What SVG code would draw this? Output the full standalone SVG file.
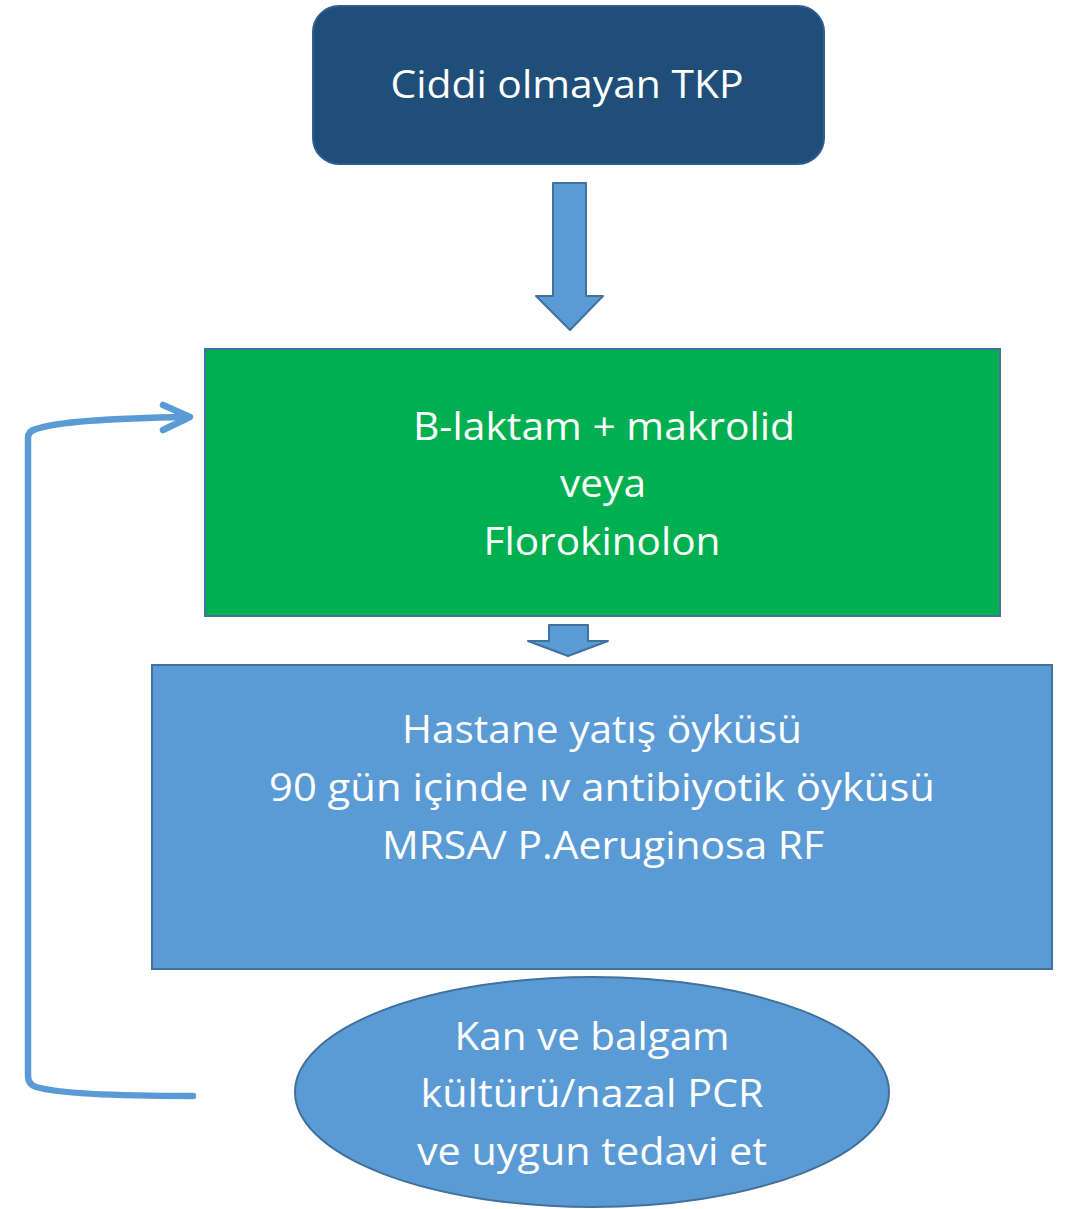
<svg xmlns="http://www.w3.org/2000/svg" width="1073" height="1209" viewBox="0 0 1073 1209">
<style>
.t{font-family:"Open Sans","Noto Sans","Liberation Sans",sans-serif;font-size:39px;fill:#ffffff;text-anchor:middle}
.conn{fill:none;stroke:#5B9BD5;stroke-width:6.5;stroke-linecap:round;stroke-linejoin:round}
.blk{fill:#5B9BD5;stroke:#41719C;stroke-width:2;stroke-linejoin:round}
</style>
<rect width="1073" height="1209" fill="#ffffff"/>
<g id="start">
<rect x="313" y="6" width="511" height="158" rx="26" fill="#1F4E79" stroke="#2E5F8E" stroke-width="2"/>
<text class="t" x="567" y="98" textLength="353" lengthAdjust="spacingAndGlyphs">Ciddi olmayan TKP</text>
</g>
<g id="treatment">
<rect x="205" y="349" width="795" height="267" fill="#00B050" stroke="#41719C" stroke-width="2"/>
<text class="t" x="604" y="440" textLength="382" lengthAdjust="spacingAndGlyphs">B-laktam + makrolid</text>
<text class="t" x="603" y="497" textLength="86" lengthAdjust="spacingAndGlyphs">veya</text>
<text class="t" x="602" y="555" textLength="237" lengthAdjust="spacingAndGlyphs">Florokinolon</text>
</g>
<g id="risk">
<rect x="152" y="665" width="900" height="304" fill="#5B9BD5" stroke="#41719C" stroke-width="2"/>
<text class="t" x="602" y="743" textLength="400" lengthAdjust="spacingAndGlyphs">Hastane yatış öyküsü</text>
<text class="t" x="602" y="801" textLength="666" lengthAdjust="spacingAndGlyphs">90 gün içinde ıv antibiyotik öyküsü</text>
<text class="t" x="603" y="859" textLength="442" lengthAdjust="spacingAndGlyphs">MRSA/ P.Aeruginosa RF</text>
</g>
<g id="culture">
<ellipse cx="592" cy="1092" rx="297" ry="115" fill="#5B9BD5" stroke="#41719C" stroke-width="2"/>
<text class="t" x="592" y="1050" textLength="275" lengthAdjust="spacingAndGlyphs">Kan ve balgam</text>
<text class="t" x="592" y="1107" textLength="343" lengthAdjust="spacingAndGlyphs">kültürü/nazal PCR</text>
<text class="t" x="592" y="1165" textLength="350" lengthAdjust="spacingAndGlyphs">ve uygun tedavi et</text>
</g>
<g id="connectors">
<polygon class="blk" points="553,183 586,183 586,296 603,296 570,330 536,296 553,296"/>
<polygon class="blk" points="549,625 588,625 588,641 608,641 568,656 528,641 549,641"/>
<path class="conn" d="M193,1096 C120,1096 60,1094 36,1087 Q28,1084 28,1076 L28,438 Q28,431 36,429 C60,421 120,418 188,417"/>
<polyline class="conn" points="163,405 190,417 163,430"/>
</g>
</svg>
